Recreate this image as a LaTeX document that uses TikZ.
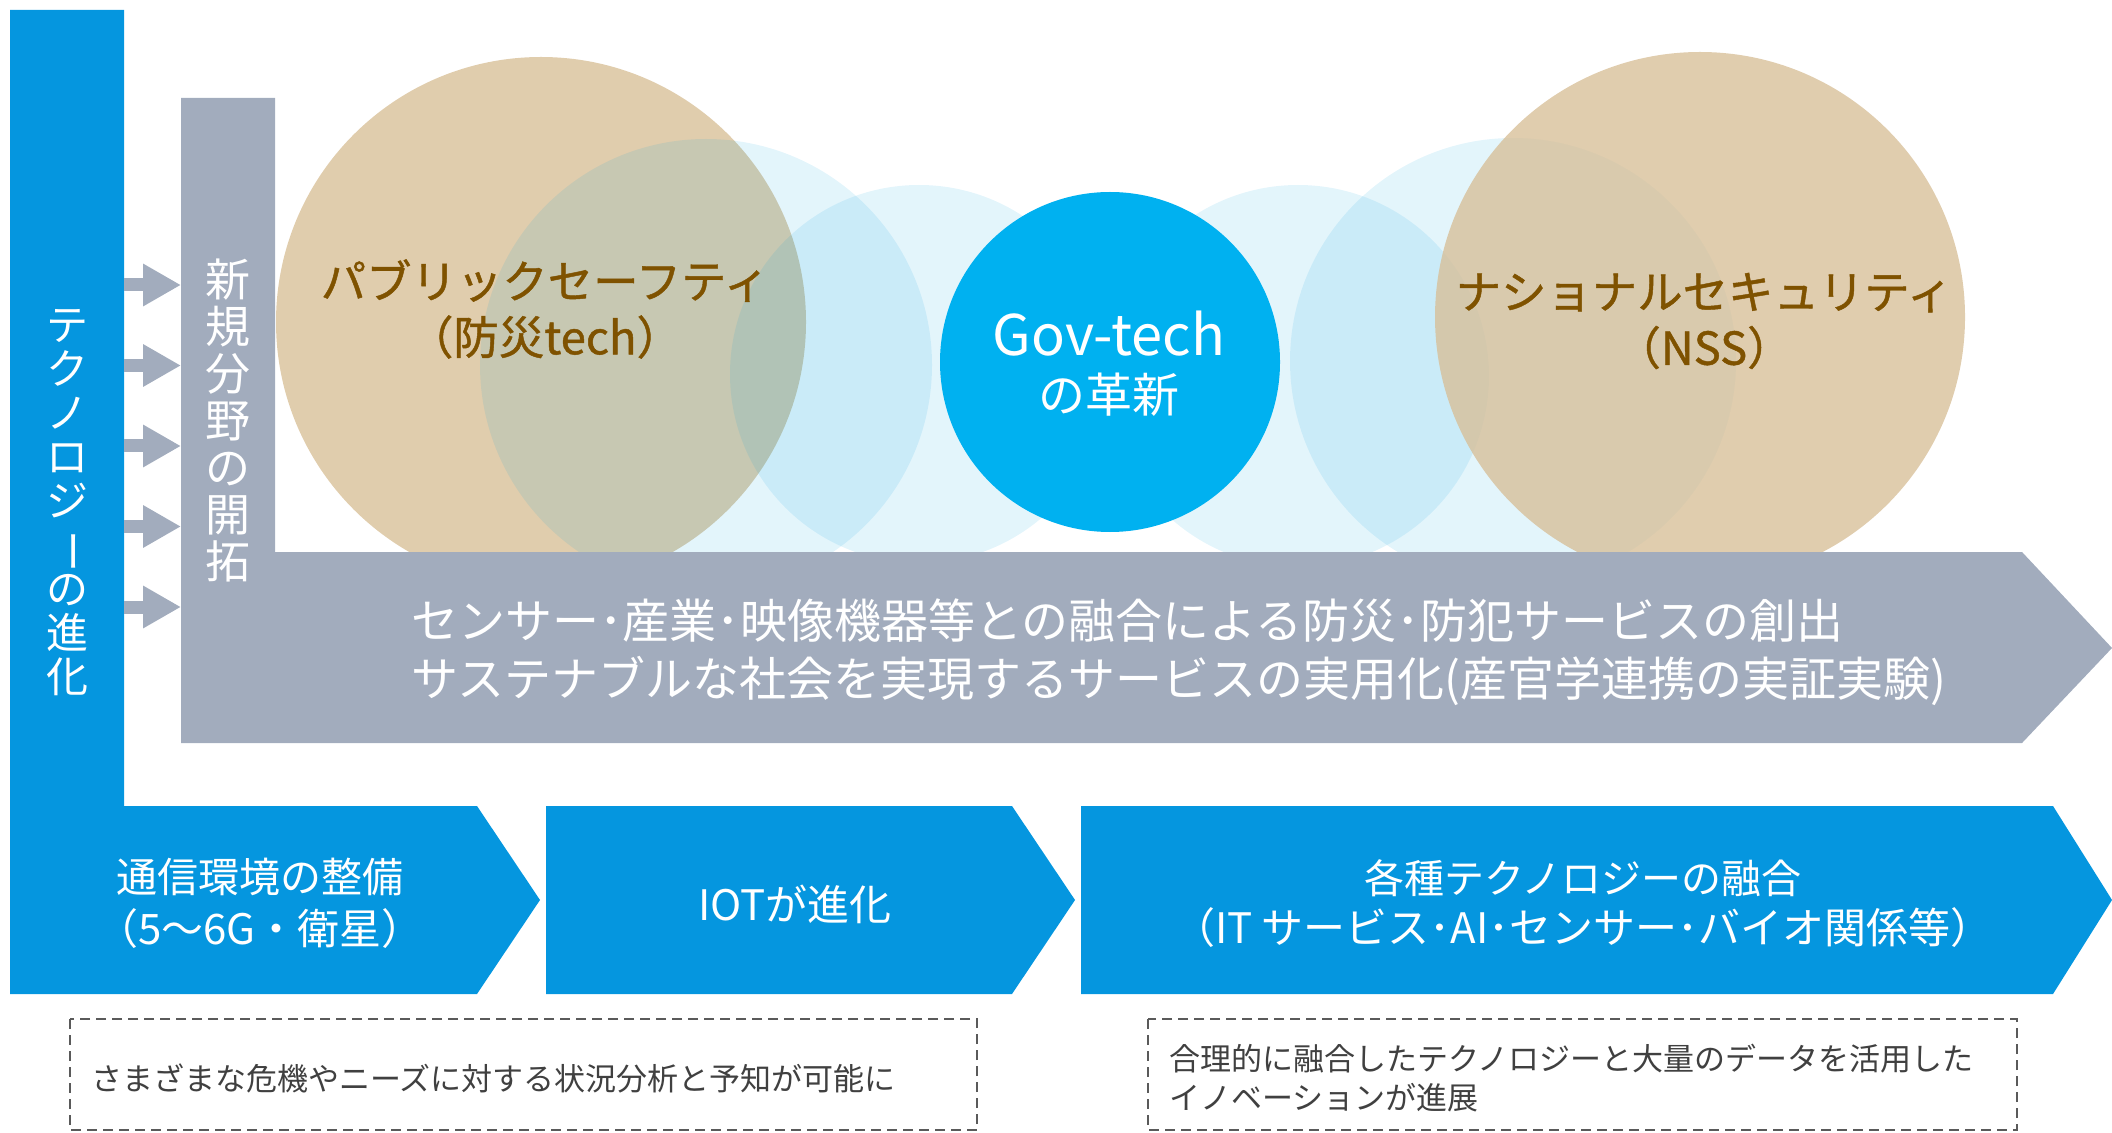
\documentclass[tikz,border=0pt]{standalone}
\usepackage{fontspec}
\setmainfont{Noto Sans CJK JP}
\newfontfamily\jpmed[FakeBold=1]{Noto Sans CJK JP}
\usepackage{graphicx}
\usetikzlibrary{arrows.meta}
\definecolor{techblue}{HTML}{0596DF}
\definecolor{govblue}{HTML}{00B1F0}
\definecolor{barGray}{HTML}{A2ACBD}
\definecolor{sandL}{HTML}{E0CDAD}
\definecolor{sandR}{HTML}{D8C09A}
\definecolor{mist}{HTML}{00A0DC}
\definecolor{brownTxt}{HTML}{7F5200}
\definecolor{noteGray}{HTML}{404040}
\definecolor{dashGray}{HTML}{5A5A5A}
\tikzset{
  wtxt/.style={inner sep=0pt, align=center, text=white},
  btxt/.style={inner sep=0pt, align=center, text=brownTxt, font=\jpmed\fontsize{22.7}{28}\selectfont},
  notetxt/.style={inner sep=0pt, align=left, anchor=west, text=noteGray, font=\fontsize{15.5}{19.5}\selectfont},
  notebox/.style={draw=dashGray, line width=1pt, dash pattern=on 5pt off 3pt},
  mistfill/.style={fill=mist, fill opacity=0.11},
  smallarrow/.style={draw=barGray, line width=6.5pt, -{Triangle[length=19pt,width=20pt]}}
}
\begin{document}
\begin{tikzpicture}[x=0.5pt,y=-0.5pt]
\useasboundingbox (0,0) rectangle (2112,1133);

% circles
\fill[sandL] (541,322) circle[radius=132.5pt];
\fill[mistfill] (706,365) circle[radius=113pt];
\fill[mistfill] (919,374) circle[radius=94.5pt];
\fill[mistfill] (1298,376) circle[radius=95.5pt];
\fill[mistfill] (1513,361) circle[radius=111.5pt];
\fill[sandR, fill opacity=0.8] (1700,317) circle[radius=132.5pt];
\fill[govblue] (1110,362) circle[radius=85pt];

% gray L arrow
\fill[barGray] (181,98) -- (275,98) -- (275,552) -- (2022,552) -- (2112,648) -- (2022,743) -- (181,743) -- cycle;

% blue L + chevrons
\fill[techblue] (10,10) -- (124,10) -- (124,806) -- (477,806) -- (540,900) -- (477,994) -- (10,994) -- cycle;
\fill[techblue] (546,806) -- (1012,806) -- (1075,900) -- (1012,994) -- (546,994) -- cycle;
\fill[techblue] (1081,806) -- (2053,806) -- (2112,900) -- (2053,994) -- (1081,994) -- cycle;

% small arrows from blue bar to gray bar
\foreach \yy in {285,365.5,446,526.5,607}{
  \coordinate (as) at (124,\yy);
  \coordinate (ae) at (181,\yy);
  \draw[smallarrow] (as) -- (ae);
}

% vertical texts
\node[wtxt, font=\fontsize{21}{22}\selectfont] (techevo) at (67,503)
  {テ\\ク\\ノ\\ロ\\ジ\\\rotatebox[origin=c]{-90}{ー}\\の\\進\\化};
\node[wtxt, font=\fontsize{22.5}{23.5}\selectfont] (newfield) at (228,420)
  {新\\規\\分\\野\\の\\開\\拓};

% circle texts
\node[btxt] (pubsafe) at (545,309)
  {パブリックセーフティ\\（防災tech）};
\node[btxt] (nss) at (1704,321)
  {ナショナルセキュリティ\\（NSS）};
\node[wtxt, font=\fontsize{28}{30}\selectfont] (govA) at (1109,334) {Gov-tech};
\node[wtxt, font=\fontsize{23.5}{28}\selectfont] (govB) at (1109,395) {の革新};

% gray arrow text
\node[inner sep=0pt, anchor=west, align=left, text=white, font=\fontsize{23.5}{29}\selectfont] (graytxt) at (411,652)
  {センサー･産業･映像機器等との融合による防災･防犯サービスの創出\\サステナブルな社会を実現するサービスの実用化(産官学連携の実証実験)};

% chevron texts
\node[wtxt, font=\fontsize{20.5}{26}\selectfont] (comm) at (260,903)
  {通信環境の整備\\{\fontsize{21}{26}\selectfont （5～6G・衛星）}};
\node[wtxt, font=\fontsize{21}{26}\selectfont] (iot) at (795,904)
  {IOTが進化};
\node[wtxt, font=\fontsize{20}{25}\selectfont] (fusion) at (1583,904)
  {各種テクノロジーの融合\\{\fontsize{21}{25}\selectfont （IT サービス･AI･センサー･バイオ関係等）}};

% dashed note boxes
\draw[notebox] (70,1019) rectangle (977,1130);
\draw[notebox] (1148,1019) rectangle (2017,1130);
\node[notetxt] (note1) at (91,1078)
  {さまざまな危機やニーズに対する状況分析と予知が可能に};
\node[notetxt] (note2) at (1169,1078.5)
  {合理的に融合したテクノロジーと大量のデータを活用した\\イノベーションが進展};
\end{tikzpicture}
\end{document}
